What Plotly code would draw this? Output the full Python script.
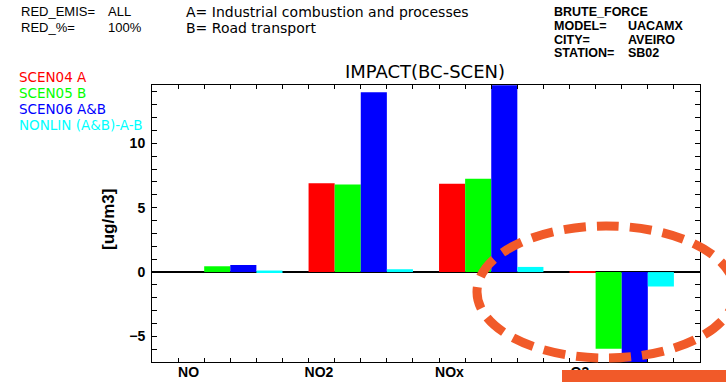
import plotly.graph_objects as go

# --- data -------------------------------------------------------------
species = ["NO", "NO2", "NOx", "O3"]
scenario_names = ["SCEN04 A", "SCEN05 B", "SCEN06 A&B", "NONLIN (A&B)-A-B"]
scen04_a = [0.0, 6.9, 6.85, 0.08]
scen05_b = [0.45, 6.8, 7.25, -5.95]
scen06_ab = [0.55, 13.95, 14.5, -7.0]
nonlin = [0.12, 0.22, 0.4, -1.12]
series_colors = ["#FF0000", "#00FF00", "#0000FF", "#00FFFF"]

header_left = [("RED_EMIS=", "ALL"), ("RED_%=", "100%")]
header_mid = ["A= Industrial combustion and processes", "B= Road transport"]
header_right = [("BRUTE_FORCE", ""), ("MODEL=", "UACAMX"), ("CITY=", "AVEIRO"), ("STATION=", "SB02")]

# --- layout geometry ---------------------------------------------------
W, H = 726, 382
ML, MR, MT, MB = 152, 26, 85, 20
PW, PH = W - ML - MR, H - MT - MB
Y_RANGE = [-6.98, 14.52]


def px_x(px):
    return (px - ML) / PW


def px_y(py):
    return (H - MB - py) / PH


fig = go.Figure()
idx = list(range(len(species)))
for name, vals, col in zip(scenario_names, [scen04_a, scen05_b, scen06_ab, nonlin], series_colors):
    fig.add_trace(go.Bar(x=idx, y=vals, name=name, marker=dict(color=col, line=dict(width=0)),
                         showlegend=False, hoverinfo="x+y+name"))

# the species names sit on an overlaid x axis (no tick marks, labels only)
fig.add_trace(go.Scatter(x=idx, y=scen04_a, xaxis="x2", mode="markers",
                         marker=dict(opacity=0), hoverinfo="skip", showlegend=False))

# bar edges inside each species group (4 bars of width 0.2)
bar_edges = sorted({round(i - 0.6 + 0.2 * k, 3) for i in idx for k in range(6)})
label_pos = [i - 0.32 for i in idx]
y_minor = list(range(-6, 15))
y_text = [("\u2212" + str(-v) if v < 0 else str(v)) if v % 5 == 0 else "" for v in y_minor]

ann = []
F_HDR = "Liberation Sans"
# header text, top-left
for i, (k, v) in enumerate(header_left):
    yy = [11.8, 28.0][i]
    ann.append(dict(x=px_x(19), y=px_y(yy), text=k, font=dict(family=F_HDR, size=13, color="black")))
    ann.append(dict(x=px_x(106), y=px_y(yy), text=v, font=dict(family=F_HDR, size=13, color="black")))
for i, t in enumerate(header_mid):
    yy = [11.8, 28.0][i]
    ann.append(dict(x=px_x(184), y=px_y(yy), text=t, font=dict(family="DejaVu Sans", size=14, color="black")))
# header text, top-right
for i, (k, v) in enumerate(header_right):
    yy = 11.5 + 14.0 * i
    ann.append(dict(x=px_x(552), y=px_y(yy), text=k,
                    font=dict(family=F_HDR, size=12.5, color="black", weight="bold")))
    if v:
        ann.append(dict(x=px_x(626), y=px_y(yy), text=v,
                        font=dict(family=F_HDR, size=12.5, color="black", weight="bold")))
# coloured series key
for i, (name, col) in enumerate(zip(scenario_names, series_colors)):
    ann.append(dict(x=px_x(17), y=px_y(77 + 16.0 * i), text=name,
                    font=dict(family="DejaVu Sans", size=13.5, color=col)))
# y-axis title
ann.append(dict(x=px_x(108), y=px_y(220), text="[ug/m3]", textangle=-90, xanchor="center",
                font=dict(family="Liberation Sans", size=17, color="black", weight="bold")))

for a in ann:
    a.setdefault("xref", "paper")
    a.setdefault("yref", "paper")
    a.setdefault("showarrow", False)
    a.setdefault("xanchor", "left")
    a.setdefault("yanchor", "middle")

shapes = [
    # highlight ring around the O3 group
    dict(type="circle", xref="paper", yref="paper",
         x0=px_x(477), x1=px_x(735), y0=px_y(358), y1=px_y(226),
         line=dict(color="#F15A29", width=9, dash="22px,11px"), layer="above"),
    # band along the bottom right
    dict(type="rect", xref="paper", yref="paper",
         x0=px_x(562), x1=px_x(730), y0=px_y(370), y1=px_y(386),
         fillcolor="#F15A29", line=dict(width=0), layer="above"),
]

tick_font = dict(family="Liberation Sans", size=14, color="black", weight="bold")

fig.update_layout(
    width=W, height=H,
    margin=dict(l=ML, r=MR, t=MT, b=MB, autoexpand=False),
    paper_bgcolor="white", plot_bgcolor="white",
    barmode="group", bargap=0.2, bargroupgap=0,
    title=dict(text="IMPACT(BC-SCEN)", x=px_x(425), xanchor="center", xref="paper",
               y=1 - 72 / H, yref="container", yanchor="middle",
               font=dict(family="DejaVu Sans", size=18, color="black")),
    annotations=ann,
    shapes=shapes,
    xaxis=dict(range=[-0.6, 3.6], tickmode="array", tickvals=bar_edges,
               ticktext=[""] * len(bar_edges), ticks="inside", ticklen=4, tickcolor="black",
               showline=True, linecolor="black", linewidth=1, mirror="ticks",
               showgrid=False, zeroline=False, automargin=False),
    xaxis2=dict(range=[-0.6, 3.6], overlaying="x", anchor="y", side="bottom",
                tickmode="array", tickvals=label_pos, ticktext=species, ticks="",
                showline=False, showgrid=False, zeroline=False, tickfont=tick_font,
                automargin=False),
    yaxis=dict(range=Y_RANGE, tickmode="array", tickvals=y_minor, ticktext=y_text,
               ticks="inside", ticklen=5, tickcolor="black", showline=True, linecolor="black",
               linewidth=1, mirror="ticks", showgrid=False, zeroline=True,
               zerolinecolor="black", zerolinewidth=1.5, tickfont=tick_font,
               ticklabelstandoff=3, automargin=False),
)

fig.write_html("out.html")
